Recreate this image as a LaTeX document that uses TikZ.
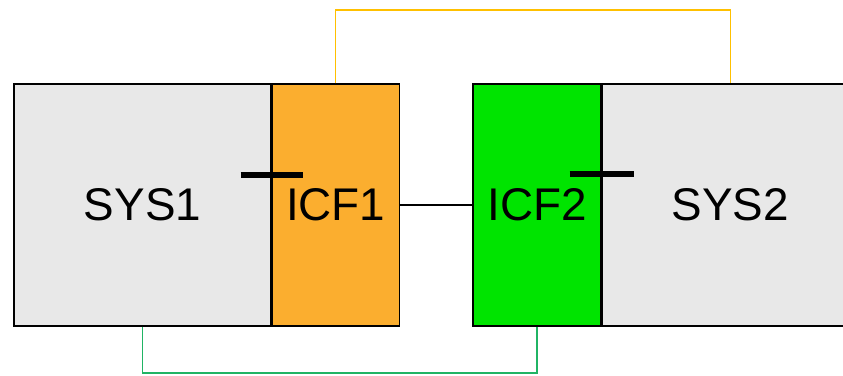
\documentclass[tikz,border=0pt]{standalone}
\usepackage{fontspec}
\setmainfont{Liberation Sans}
\usetikzlibrary{positioning, calc}
\usepackage{xcolor}
\definecolor{sysgray}{HTML}{E8E8E8}
\definecolor{icforange}{HTML}{FBAE2F}
\definecolor{icfgreen}{HTML}{00E400}
\definecolor{linkyellow}{HTML}{FFC000}
\definecolor{linkgreen}{HTML}{20B464}

\begin{document}
\begin{tikzpicture}[
    x=1bp, y=1bp,
    node distance=0bp and 0bp,
    box/.style={draw, line width=1.2bp, minimum height=242bp, inner sep=0pt,
        font=\fontsize{46}{52}\selectfont},
    sysbox/.style={box, fill=sysgray},
    icfbox/.style={box, minimum width=127bp},
    plug/.style={line width=6bp},
    link/.style={line width=1.3bp},
]
\clip (0,0) rectangle (843,375);

% Systems and interface blocks
\node[sysbox, minimum width=257bp] (SYS1) at (142.5,170) {SYS1};
\node[icfbox, fill=icforange, right=of SYS1] (ICF1) {ICF1};
\node[icfbox, fill=icfgreen, minimum width=128bp] (ICF2) at (537,170) {ICF2};
\node[sysbox, minimum width=256bp, right=of ICF2] (SYS2) {SYS2};

% Plugs on the boundaries
\draw[plug] ($(SYS1.east)+(-31,30)$) -- ($(SYS1.east)+(31,30)$);
\draw[plug] ($(SYS2.west)+(-32,31)$) -- ($(SYS2.west)+(32,31)$);

% Links
\coordinate (top) at (ICF1.north |- 0,365);
\coordinate (bot) at (SYS1.south |- 0,2);
\draw[link] (ICF1.east) -- (ICF2.west);
\draw[link, linkyellow] (ICF1.north) -- (top) -| (SYS2.north);
\draw[link, linkgreen] (SYS1.south) -- (bot) -| (ICF2.south);

\end{tikzpicture}
\end{document}
